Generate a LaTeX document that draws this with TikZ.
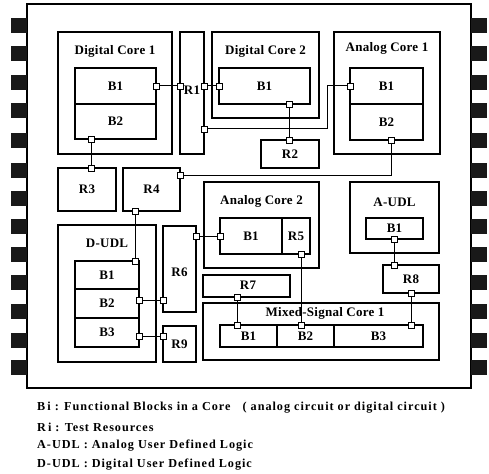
\documentclass[tikz,border=0pt]{standalone}
\usepackage{fontspec}
\setmainfont{Liberation Serif}
\newfontfamily\lblfam[LetterSpace=2]{Liberation Serif}
\newfontfamily\legfont[LetterSpace=8]{Liberation Serif}
\usetikzlibrary{positioning,calc}

\newcommand{\lblfont}{\lblfam\fontsize{13}{15}\selectfont\bfseries}

\tikzset{
core/.style={draw, line width=1.8pt, inner sep=0pt},
blk/.style={draw, line width=1.2pt, inner sep=0pt, font=\lblfont},
res/.style={draw, line width=1.2pt, inner sep=0pt, font=\lblfont},
ttl/.style={inner sep=0pt, font=\lblfont},
port/.style={draw, fill=white, line width=0.8pt, minimum width=6pt, minimum height=6pt, inner sep=0pt},
pin/.style={fill=black!90, minimum width=16pt, minimum height=15pt, inner sep=0pt},
wire/.style={line width=1pt},
legtxt/.style={anchor=west, inner sep=0pt, font=\legfont\fontsize{12.2}{14}\selectfont\bfseries}
}

\begin{document}
\begin{tikzpicture}[x=1pt,y=-1pt]
\useasboundingbox (0,0) rectangle (489,473);

% -------- chip and pins --------
\node[draw, line width=2pt, minimum width=444, minimum height=384, inner sep=0pt] (chip) at (249,196) {};
\foreach \y [count=\i] in {26,54,83,111,141,170,198,226,254,282,311,340,367}{
  \node[pin] (pl\i) at (18.5,\y) {};
  \node[pin] (pr\i) at (479,\y) {};
}

% -------- Digital Core 1 --------
\node[core, minimum width=114, minimum height=122] (dc1) at (115,93) {};
\node[ttl] (dc1t) at (115,51) {Digital Core 1};
\node[blk, minimum width=81, minimum height=36] (dc1b1) at (115.5,86) {B1};
\node[blk, minimum width=81, minimum height=35] (dc1b2) at (115.5,121.5) {B2};

% -------- R1 --------
\node[res, minimum width=24, minimum height=122] (r1) at (192,93) {};
\node[ttl] (r1t) at (192,90) {R1};

% -------- Digital Core 2 --------
\node[core, minimum width=107, minimum height=86] (dc2) at (265.5,75) {};
\node[ttl] (dc2t) at (265.5,51) {Digital Core 2};
\node[blk, minimum width=91, minimum height=36] (dc2b1) at (264.5,86) {B1};
\node[res, minimum width=58, minimum height=28] (r2) at (290,154) {R2};

% -------- Analog Core 1 --------
\node[core, minimum width=106, minimum height=122] (ac1) at (387,93) {};
\node[ttl] (ac1t) at (387,48) {Analog Core 1};
\node[blk, minimum width=73, minimum height=36] (ac1b1) at (386.5,86) {B1};
\node[blk, minimum width=73, minimum height=36] (ac1b2) at (386.5,122) {B2};

% -------- R3, R4 --------
\node[res, minimum width=58, minimum height=43] (r3) at (87,189.5) {R3};
\node[res, minimum width=57, minimum height=43] (r4) at (151.5,189.5) {R4};

% -------- D-UDL --------
\node[core, minimum width=98, minimum height=137] (dudl) at (107,293.5) {};
\node[ttl] (dudlt) at (107,243) {D-UDL};
\node[blk, minimum width=64, minimum height=28] (dub1) at (107,275) {B1};
\node[blk, minimum width=64, minimum height=29] (dub2) at (107,303.5) {B2};
\node[blk, minimum width=64, minimum height=29] (dub3) at (107,332.5) {B3};

% -------- R6, R9 --------
\node[res, minimum width=33, minimum height=86] (r6) at (179.5,269) {};
\node[ttl] (r6t) at (179.5,272) {R6};
\node[res, minimum width=33, minimum height=36] (r9) at (179.5,344) {R9};

% -------- Analog Core 2 --------
\node[core, minimum width=115, minimum height=86] (ac2) at (261.5,225) {};
\node[ttl] (ac2t) at (261.5,201) {Analog Core 2};
\node[blk, minimum width=62, minimum height=36] (ac2b1) at (251,236) {B1};
\node[blk, minimum width=28, minimum height=36] (r5) at (296,236) {R5};

% -------- R7 --------
\node[res, minimum width=87, minimum height=22] (r7) at (246.5,286) {};
\node[ttl] (r7t) at (248,285) {R7};

% -------- Mixed-Signal Core 1 --------
\node[core, minimum width=236, minimum height=57] (ms) at (321,331.5) {};
\node[ttl] (mst) at (325,313) {Mixed-Signal Core 1};
\node[blk, minimum width=57, minimum height=22] (msb1) at (248.5,336) {B1};
\node[blk, minimum width=57, minimum height=22] (msb2) at (305.5,336) {B2};
\node[blk, minimum width=89, minimum height=22] (msb3) at (378.5,336) {B3};

% -------- A-UDL --------
\node[core, minimum width=89, minimum height=71] (audl) at (394.5,217.5) {};
\node[ttl] (audlt) at (394.5,202) {A-UDL};
\node[blk, minimum width=57, minimum height=21] (aub1) at (394.5,228.5) {B1};
\node[res, minimum width=56, minimum height=28] (r8) at (411,279) {R8};

% -------- ports --------
\node[port] (p1) at (156,86) {};
\node[port] (p2) at (180,86) {};
\node[port] (p3) at (204,86) {};
\node[port] (p4) at (219,86) {};
\node[port] (p5) at (204,129) {};
\node[port] (p6) at (350,86) {};
\node[port] (p7) at (289,104) {};
\node[port] (p8) at (289,140) {};
\node[port] (p9) at (91,139) {};
\node[port] (p10) at (91,168) {};
\node[port] (p11) at (391,140) {};
\node[port] (p12) at (180,175) {};
\node[port] (p13) at (135,211) {};
\node[port] (p14) at (135,261) {};
\node[port] (p15) at (139,300) {};
\node[port] (p16) at (163,300) {};
\node[port] (p17) at (139,336) {};
\node[port] (p18) at (163,336) {};
\node[port] (p19) at (196,236) {};
\node[port] (p20) at (220,236) {};
\node[port] (p21) at (301,254) {};
\node[port] (p22) at (301,325) {};
\node[port] (p23) at (237,297) {};
\node[port] (p24) at (237,325) {};
\node[port] (p25) at (394,239) {};
\node[port] (p26) at (394,265) {};
\node[port] (p27) at (411,293) {};
\node[port] (p28) at (411,325) {};

% -------- wires --------
\coordinate (k1) at (327,129);
\draw[wire] (p1) -- (p2);
\draw[wire] (p3) -- (p4);
\draw[wire] (p5) -- (k1) |- (p6);
\draw[wire] (p7) -- (p8);
\draw[wire] (p9) -- (p10);
\draw[wire] (p11) |- (p12);
\draw[wire] (p13) -- (p14);
\draw[wire] (p15) -- (p16);
\draw[wire] (p17) -- (p18);
\draw[wire] (p19) -- (p20);
\draw[wire] (p21) -- (p22);
\draw[wire] (p23) -- (p24);
\draw[wire] (p25) -- (p26);
\draw[wire] (p27) -- (p28);

% -------- legend --------
\node[legtxt] (leg1) at (37,408) {B\,i : Functional Blocks in a Core \ \ ( analog circuit or digital circuit )};
\node[legtxt] (leg2) at (37,427) {R\,i : Test Resources};
\node[legtxt] (leg3) at (37,446) {A-UDL : Analog User Defined Logic};
\node[legtxt] (leg4) at (37,465) {D-UDL : Digital User Defined Logic};

\end{tikzpicture}
\end{document}
